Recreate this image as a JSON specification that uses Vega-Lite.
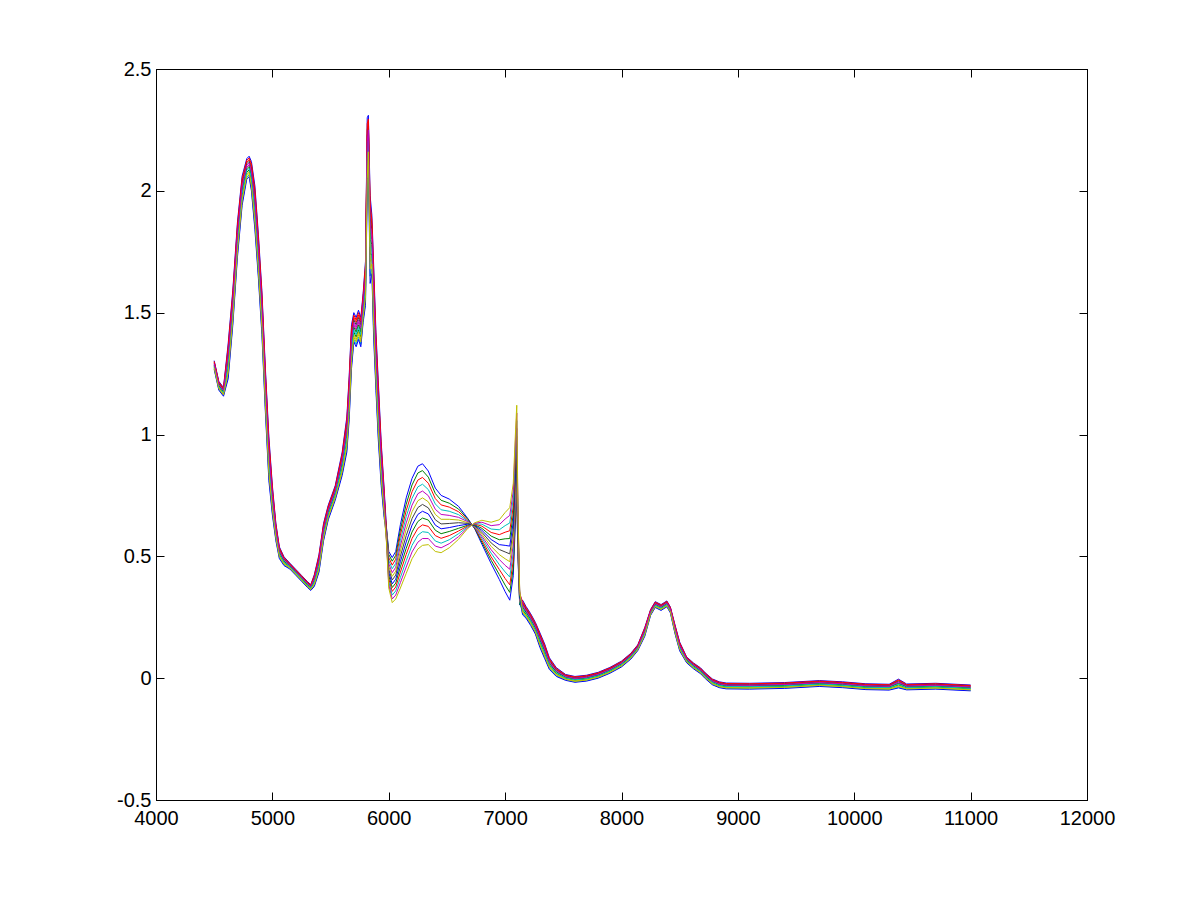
{
 "$schema": "https://vega.github.io/schema/vega-lite/v6.json",
 "width": 931, "height": 731,
 "autosize": "none",
 "padding": {"left": 156, "top": 69, "right": 114, "bottom": 100},
 "background": "white",
 "config": {
  "view": {"stroke": "black", "strokeWidth": 1},
  "axis": {"grid": false, "title": null, "domainColor": "black", "domainWidth": 1, "tickColor": "black", "tickWidth": 1, "tickSize": -8, "labelColor": "black", "labelFont": "Liberation Sans", "labelFontSize": 20, "labelFlush": false, "labelOverlap": false, "labelPadding": 8},
  "axisX": {"labelPadding": 16},
  "axisY": {"labelPadding": 13}
 },
 "layer": [
  {
   "data": {"values": [
    {"x":4500,"a":1.303,"b":1.279,"c":1.297,"d":1.27,"e":1.288,"f":1.276,"g":1.294,"h":1.267,"i":1.285,"j":1.3,"k":1.282,"l":1.291,"m":1.273},
    {"x":4540,"a":1.218,"b":1.194,"c":1.212,"d":1.185,"e":1.203,"f":1.191,"g":1.209,"h":1.182,"i":1.2,"j":1.215,"k":1.197,"l":1.206,"m":1.188},
    {"x":4580,"a":1.193,"b":1.169,"c":1.187,"d":1.16,"e":1.178,"f":1.166,"g":1.184,"h":1.157,"i":1.175,"j":1.19,"k":1.172,"l":1.181,"m":1.163},
    {"x":4620,"a":1.372,"b":1.276,"c":1.348,"d":1.24,"e":1.312,"f":1.264,"g":1.336,"h":1.228,"i":1.3,"j":1.36,"k":1.288,"l":1.324,"m":1.252},
    {"x":4660,"a":1.592,"b":1.496,"c":1.568,"d":1.46,"e":1.532,"f":1.484,"g":1.556,"h":1.448,"i":1.52,"j":1.58,"k":1.508,"l":1.544,"m":1.472},
    {"x":4700,"a":1.872,"b":1.776,"c":1.848,"d":1.74,"e":1.812,"f":1.764,"g":1.836,"h":1.728,"i":1.8,"j":1.86,"k":1.788,"l":1.824,"m":1.752},
    {"x":4740,"a":2.06,"b":1.98,"c":2.04,"d":1.95,"e":2.01,"f":1.97,"g":2.03,"h":1.94,"i":2.0,"j":2.05,"k":1.99,"l":2.02,"m":1.96},
    {"x":4780,"a":2.132,"b":2.076,"c":2.118,"d":2.055,"e":2.097,"f":2.069,"g":2.111,"h":2.048,"i":2.09,"j":2.125,"k":2.083,"l":2.104,"m":2.062},
    {"x":4800,"a":2.142,"b":2.086,"c":2.128,"d":2.065,"e":2.107,"f":2.079,"g":2.121,"h":2.058,"i":2.1,"j":2.135,"k":2.093,"l":2.114,"m":2.072},
    {"x":4820,"a":2.12,"b":2.04,"c":2.1,"d":2.01,"e":2.07,"f":2.03,"g":2.09,"h":2.0,"i":2.06,"j":2.11,"k":2.05,"l":2.08,"m":2.02},
    {"x":4850,"a":2.02,"b":1.9,"c":1.99,"d":1.855,"e":1.945,"f":1.885,"g":1.975,"h":1.84,"i":1.93,"j":2.005,"k":1.915,"l":1.96,"m":1.87},
    {"x":4880,"a":1.82,"b":1.7,"c":1.79,"d":1.655,"e":1.745,"f":1.685,"g":1.775,"h":1.64,"i":1.73,"j":1.805,"k":1.715,"l":1.76,"m":1.67},
    {"x":4910,"a":1.59,"b":1.47,"c":1.56,"d":1.425,"e":1.515,"f":1.455,"g":1.545,"h":1.41,"i":1.5,"j":1.575,"k":1.485,"l":1.53,"m":1.44},
    {"x":4940,"a":1.27,"b":1.15,"c":1.24,"d":1.105,"e":1.195,"f":1.135,"g":1.225,"h":1.09,"i":1.18,"j":1.255,"k":1.165,"l":1.21,"m":1.12},
    {"x":4970,"a":0.99,"b":0.87,"c":0.96,"d":0.825,"e":0.915,"f":0.855,"g":0.945,"h":0.81,"i":0.9,"j":0.975,"k":0.885,"l":0.93,"m":0.84},
    {"x":5000,"a":0.79,"b":0.71,"c":0.77,"d":0.68,"e":0.74,"f":0.7,"g":0.76,"h":0.67,"i":0.73,"j":0.78,"k":0.72,"l":0.75,"m":0.69},
    {"x":5030,"a":0.636,"b":0.588,"c":0.624,"d":0.57,"e":0.606,"f":0.582,"g":0.618,"h":0.564,"i":0.6,"j":0.63,"k":0.594,"l":0.612,"m":0.576},
    {"x":5060,"a":0.539,"b":0.507,"c":0.531,"d":0.495,"e":0.519,"f":0.503,"g":0.527,"h":0.491,"i":0.515,"j":0.535,"k":0.511,"l":0.523,"m":0.499},
    {"x":5100,"a":0.498,"b":0.474,"c":0.492,"d":0.465,"e":0.483,"f":0.471,"g":0.489,"h":0.462,"i":0.48,"j":0.495,"k":0.477,"l":0.486,"m":0.468},
    {"x":5150,"a":0.472,"b":0.456,"c":0.468,"d":0.45,"e":0.462,"f":0.454,"g":0.466,"h":0.448,"i":0.46,"j":0.47,"k":0.458,"l":0.464,"m":0.452},
    {"x":5200,"a":0.447,"b":0.431,"c":0.443,"d":0.425,"e":0.437,"f":0.429,"g":0.441,"h":0.423,"i":0.435,"j":0.445,"k":0.433,"l":0.439,"m":0.427},
    {"x":5250,"a":0.422,"b":0.406,"c":0.418,"d":0.4,"e":0.412,"f":0.404,"g":0.416,"h":0.398,"i":0.41,"j":0.42,"k":0.408,"l":0.414,"m":0.402},
    {"x":5300,"a":0.397,"b":0.381,"c":0.393,"d":0.375,"e":0.387,"f":0.379,"g":0.391,"h":0.373,"i":0.385,"j":0.395,"k":0.383,"l":0.389,"m":0.377},
    {"x":5330,"a":0.384,"b":0.368,"c":0.38,"d":0.362,"e":0.374,"f":0.366,"g":0.378,"h":0.36,"i":0.372,"j":0.382,"k":0.37,"l":0.376,"m":0.364},
    {"x":5360,"a":0.424,"b":0.392,"c":0.416,"d":0.38,"e":0.404,"f":0.388,"g":0.412,"h":0.376,"i":0.4,"j":0.42,"k":0.396,"l":0.408,"m":0.384},
    {"x":5400,"a":0.506,"b":0.458,"c":0.494,"d":0.44,"e":0.476,"f":0.452,"g":0.488,"h":0.434,"i":0.47,"j":0.5,"k":0.464,"l":0.482,"m":0.446},
    {"x":5440,"a":0.636,"b":0.588,"c":0.624,"d":0.57,"e":0.606,"f":0.582,"g":0.618,"h":0.564,"i":0.6,"j":0.63,"k":0.594,"l":0.612,"m":0.576},
    {"x":5480,"a":0.71,"b":0.67,"c":0.7,"d":0.655,"e":0.685,"f":0.665,"g":0.695,"h":0.65,"i":0.68,"j":0.705,"k":0.675,"l":0.69,"m":0.66},
    {"x":5540,"a":0.79,"b":0.75,"c":0.78,"d":0.735,"e":0.765,"f":0.745,"g":0.775,"h":0.73,"i":0.76,"j":0.785,"k":0.755,"l":0.77,"m":0.74},
    {"x":5600,"a":0.928,"b":0.864,"c":0.912,"d":0.84,"e":0.888,"f":0.856,"g":0.904,"h":0.832,"i":0.88,"j":0.92,"k":0.872,"l":0.896,"m":0.848},
    {"x":5640,"a":1.072,"b":0.976,"c":1.048,"d":0.94,"e":1.012,"f":0.964,"g":1.036,"h":0.928,"i":1.0,"j":1.06,"k":0.988,"l":1.024,"m":0.952},
    {"x":5660,"a":1.24,"b":1.12,"c":1.21,"d":1.075,"e":1.165,"f":1.105,"g":1.195,"h":1.06,"i":1.15,"j":1.225,"k":1.135,"l":1.18,"m":1.09},
    {"x":5680,"a":1.45,"b":1.33,"c":1.42,"d":1.285,"e":1.375,"f":1.315,"g":1.405,"h":1.27,"i":1.36,"j":1.435,"k":1.345,"l":1.39,"m":1.3},
    {"x":5700,"a":1.5,"b":1.42,"c":1.48,"d":1.39,"e":1.45,"f":1.41,"g":1.47,"h":1.38,"i":1.44,"j":1.49,"k":1.43,"l":1.46,"m":1.4},
    {"x":5720,"a":1.48,"b":1.4,"c":1.46,"d":1.37,"e":1.43,"f":1.39,"g":1.45,"h":1.36,"i":1.42,"j":1.47,"k":1.41,"l":1.44,"m":1.38},
    {"x":5740,"a":1.51,"b":1.43,"c":1.49,"d":1.4,"e":1.46,"f":1.42,"g":1.48,"h":1.39,"i":1.45,"j":1.5,"k":1.44,"l":1.47,"m":1.41},
    {"x":5760,"a":1.48,"b":1.4,"c":1.46,"d":1.37,"e":1.43,"f":1.39,"g":1.45,"h":1.36,"i":1.42,"j":1.47,"k":1.41,"l":1.44,"m":1.38},
    {"x":5780,"a":1.58,"b":1.5,"c":1.56,"d":1.47,"e":1.53,"f":1.49,"g":1.55,"h":1.46,"i":1.52,"j":1.57,"k":1.51,"l":1.54,"m":1.48},
    {"x":5800,"a":1.71,"b":1.59,"c":1.68,"d":1.545,"e":1.635,"f":1.575,"g":1.665,"h":1.53,"i":1.62,"j":1.695,"k":1.605,"l":1.65,"m":1.56},
    {"x":5815,"a":2.3,"b":2.1,"c":2.25,"d":2.025,"e":2.175,"f":2.075,"g":2.225,"h":2.0,"i":2.15,"j":2.275,"k":2.125,"l":2.2,"m":2.05},
    {"x":5825,"a":2.31,"b":2.19,"c":2.28,"d":2.145,"e":2.235,"f":2.175,"g":2.265,"h":2.13,"i":2.22,"j":2.295,"k":2.205,"l":2.25,"m":2.16},
    {"x":5840,"a":1.98,"b":1.74,"c":1.92,"d":1.65,"e":1.83,"f":1.71,"g":1.89,"h":1.62,"i":1.8,"j":1.95,"k":1.77,"l":1.86,"m":1.68},
    {"x":5855,"a":1.9,"b":1.74,"c":1.86,"d":1.68,"e":1.8,"f":1.72,"g":1.84,"h":1.66,"i":1.78,"j":1.88,"k":1.76,"l":1.82,"m":1.7},
    {"x":5870,"a":1.7,"b":1.5,"c":1.65,"d":1.425,"e":1.575,"f":1.475,"g":1.625,"h":1.4,"i":1.55,"j":1.675,"k":1.525,"l":1.6,"m":1.45},
    {"x":5890,"a":1.42,"b":1.26,"c":1.38,"d":1.2,"e":1.32,"f":1.24,"g":1.36,"h":1.18,"i":1.3,"j":1.4,"k":1.28,"l":1.34,"m":1.22},
    {"x":5910,"a":1.22,"b":1.06,"c":1.18,"d":1.0,"e":1.12,"f":1.04,"g":1.16,"h":0.98,"i":1.1,"j":1.2,"k":1.08,"l":1.14,"m":1.02},
    {"x":5935,"a":0.97,"b":0.85,"c":0.94,"d":0.805,"e":0.895,"f":0.835,"g":0.925,"h":0.79,"i":0.88,"j":0.955,"k":0.865,"l":0.91,"m":0.82},
    {"x":5960,"a":0.78,"b":0.7,"c":0.76,"d":0.67,"e":0.73,"f":0.69,"g":0.75,"h":0.66,"i":0.72,"j":0.77,"k":0.71,"l":0.74,"m":0.68},
    {"x":5980,"a":0.62,"b":0.615,"c":0.61,"d":0.605,"e":0.6,"f":0.595,"g":0.59,"h":0.585,"i":0.58,"j":0.575,"k":0.57,"l":0.565,"m":0.56},
    {"x":6000,"a":0.52,"b":0.508,"c":0.495,"d":0.483,"e":0.47,"f":0.458,"g":0.445,"h":0.433,"i":0.42,"j":0.408,"k":0.395,"l":0.383,"m":0.37},
    {"x":6030,"a":0.495,"b":0.48,"c":0.464,"d":0.449,"e":0.433,"f":0.418,"g":0.403,"h":0.387,"i":0.372,"j":0.356,"k":0.341,"l":0.325,"m":0.31},
    {"x":6060,"a":0.52,"b":0.504,"c":0.488,"d":0.471,"e":0.455,"f":0.439,"g":0.423,"h":0.406,"i":0.39,"j":0.374,"k":0.358,"l":0.341,"m":0.325},
    {"x":6100,"a":0.63,"b":0.608,"c":0.587,"d":0.565,"e":0.543,"f":0.522,"g":0.5,"h":0.478,"i":0.457,"j":0.435,"k":0.413,"l":0.392,"m":0.37},
    {"x":6150,"a":0.74,"b":0.714,"c":0.688,"d":0.663,"e":0.637,"f":0.611,"g":0.585,"h":0.559,"i":0.533,"j":0.508,"k":0.482,"l":0.456,"m":0.43},
    {"x":6200,"a":0.82,"b":0.793,"c":0.765,"d":0.738,"e":0.71,"f":0.683,"g":0.655,"h":0.628,"i":0.6,"j":0.573,"k":0.545,"l":0.518,"m":0.49},
    {"x":6250,"a":0.87,"b":0.842,"c":0.813,"d":0.785,"e":0.757,"f":0.728,"g":0.7,"h":0.672,"i":0.643,"j":0.615,"k":0.587,"l":0.558,"m":0.53},
    {"x":6290,"a":0.88,"b":0.852,"c":0.824,"d":0.796,"e":0.768,"f":0.74,"g":0.713,"h":0.685,"i":0.657,"j":0.629,"k":0.601,"l":0.573,"m":0.545},
    {"x":6340,"a":0.85,"b":0.825,"c":0.8,"d":0.774,"e":0.749,"f":0.724,"g":0.699,"h":0.674,"i":0.649,"j":0.623,"k":0.598,"l":0.573,"m":0.548},
    {"x":6400,"a":0.78,"b":0.758,"c":0.737,"d":0.715,"e":0.693,"f":0.672,"g":0.65,"h":0.628,"i":0.607,"j":0.585,"k":0.563,"l":0.542,"m":0.52},
    {"x":6450,"a":0.75,"b":0.73,"c":0.711,"d":0.691,"e":0.672,"f":0.652,"g":0.633,"h":0.613,"i":0.593,"j":0.574,"k":0.554,"l":0.535,"m":0.515},
    {"x":6520,"a":0.735,"b":0.718,"c":0.702,"d":0.685,"e":0.668,"f":0.652,"g":0.635,"h":0.618,"i":0.602,"j":0.585,"k":0.568,"l":0.552,"m":0.535},
    {"x":6600,"a":0.705,"b":0.694,"c":0.683,"d":0.671,"e":0.66,"f":0.649,"g":0.638,"h":0.626,"i":0.615,"j":0.604,"k":0.593,"l":0.581,"m":0.57},
    {"x":6680,"a":0.655,"b":0.652,"c":0.648,"d":0.645,"e":0.642,"f":0.638,"g":0.635,"h":0.632,"i":0.628,"j":0.625,"k":0.622,"l":0.618,"m":0.615},
    {"x":6740,"a":0.612,"b":0.614,"c":0.616,"d":0.619,"e":0.621,"f":0.623,"g":0.625,"h":0.627,"i":0.629,"j":0.632,"k":0.634,"l":0.636,"m":0.638},
    {"x":6800,"a":0.55,"b":0.558,"c":0.566,"d":0.575,"e":0.583,"f":0.591,"g":0.599,"h":0.607,"i":0.615,"j":0.624,"k":0.632,"l":0.64,"m":0.648},
    {"x":6880,"a":0.47,"b":0.484,"c":0.498,"d":0.513,"e":0.527,"f":0.541,"g":0.555,"h":0.569,"i":0.583,"j":0.598,"k":0.612,"l":0.626,"m":0.64},
    {"x":6950,"a":0.405,"b":0.425,"c":0.446,"d":0.466,"e":0.487,"f":0.507,"g":0.528,"h":0.548,"i":0.568,"j":0.589,"k":0.609,"l":0.63,"m":0.65},
    {"x":7000,"a":0.355,"b":0.382,"c":0.409,"d":0.436,"e":0.463,"f":0.49,"g":0.518,"h":0.545,"i":0.572,"j":0.599,"k":0.626,"l":0.653,"m":0.68},
    {"x":7040,"a":0.32,"b":0.352,"c":0.383,"d":0.415,"e":0.447,"f":0.478,"g":0.51,"h":0.542,"i":0.573,"j":0.605,"k":0.637,"l":0.668,"m":0.7},
    {"x":7070,"a":0.42,"b":0.452,"c":0.483,"d":0.515,"e":0.547,"f":0.578,"g":0.61,"h":0.642,"i":0.673,"j":0.705,"k":0.737,"l":0.768,"m":0.8},
    {"x":7090,"a":0.66,"b":0.69,"c":0.72,"d":0.75,"e":0.78,"f":0.81,"g":0.84,"h":0.87,"i":0.9,"j":0.93,"k":0.96,"l":0.99,"m":1.02},
    {"x":7100,"a":0.74,"b":0.772,"c":0.803,"d":0.835,"e":0.867,"f":0.898,"g":0.93,"h":0.962,"i":0.993,"j":1.025,"k":1.057,"l":1.088,"m":1.12},
    {"x":7110,"a":0.5,"b":0.517,"c":0.533,"d":0.55,"e":0.567,"f":0.583,"g":0.6,"h":0.617,"i":0.633,"j":0.65,"k":0.667,"l":0.683,"m":0.7},
    {"x":7125,"a":0.3,"b":0.305,"c":0.31,"d":0.315,"e":0.32,"f":0.325,"g":0.33,"h":0.335,"i":0.34,"j":0.345,"k":0.35,"l":0.355,"m":0.36},
    {"x":7150,"a":0.32,"b":0.28,"c":0.31,"d":0.265,"e":0.295,"f":0.275,"g":0.305,"h":0.26,"i":0.29,"j":0.315,"k":0.285,"l":0.3,"m":0.27},
    {"x":7180,"a":0.294,"b":0.262,"c":0.286,"d":0.25,"e":0.274,"f":0.258,"g":0.282,"h":0.246,"i":0.27,"j":0.29,"k":0.266,"l":0.278,"m":0.254},
    {"x":7220,"a":0.264,"b":0.232,"c":0.256,"d":0.22,"e":0.244,"f":0.228,"g":0.252,"h":0.216,"i":0.24,"j":0.26,"k":0.236,"l":0.248,"m":0.224},
    {"x":7260,"a":0.229,"b":0.197,"c":0.221,"d":0.185,"e":0.209,"f":0.193,"g":0.217,"h":0.181,"i":0.205,"j":0.225,"k":0.201,"l":0.213,"m":0.189},
    {"x":7300,"a":0.185,"b":0.145,"c":0.175,"d":0.13,"e":0.16,"f":0.14,"g":0.17,"h":0.125,"i":0.155,"j":0.18,"k":0.15,"l":0.165,"m":0.135},
    {"x":7340,"a":0.14,"b":0.1,"c":0.13,"d":0.085,"e":0.115,"f":0.095,"g":0.125,"h":0.08,"i":0.11,"j":0.135,"k":0.105,"l":0.12,"m":0.09},
    {"x":7380,"a":0.084,"b":0.052,"c":0.076,"d":0.04,"e":0.064,"f":0.048,"g":0.072,"h":0.036,"i":0.06,"j":0.08,"k":0.056,"l":0.068,"m":0.044},
    {"x":7440,"a":0.043,"b":0.019,"c":0.037,"d":0.01,"e":0.028,"f":0.016,"g":0.034,"h":0.007,"i":0.025,"j":0.04,"k":0.022,"l":0.031,"m":0.013},
    {"x":7520,"a":0.015,"b":-0.001,"c":0.011,"d":-0.007,"e":0.005,"f":-0.003,"g":0.009,"h":-0.009,"i":0.003,"j":0.013,"k":0.001,"l":0.007,"m":-0.005},
    {"x":7600,"a":0.007,"b":-0.009,"c":0.003,"d":-0.015,"e":-0.003,"f":-0.011,"g":0.001,"h":-0.017,"i":-0.005,"j":0.005,"k":-0.007,"l":-0.001,"m":-0.013},
    {"x":7700,"a":0.012,"b":-0.004,"c":0.008,"d":-0.01,"e":0.002,"f":-0.006,"g":0.006,"h":-0.012,"i":0.0,"j":0.01,"k":-0.002,"l":0.004,"m":-0.008},
    {"x":7800,"a":0.024,"b":0.008,"c":0.02,"d":0.002,"e":0.014,"f":0.006,"g":0.018,"h":0.0,"i":0.012,"j":0.022,"k":0.01,"l":0.016,"m":0.004},
    {"x":7900,"a":0.044,"b":0.028,"c":0.04,"d":0.022,"e":0.034,"f":0.026,"g":0.038,"h":0.02,"i":0.032,"j":0.042,"k":0.03,"l":0.036,"m":0.024},
    {"x":8000,"a":0.07,"b":0.054,"c":0.066,"d":0.048,"e":0.06,"f":0.052,"g":0.064,"h":0.046,"i":0.058,"j":0.068,"k":0.056,"l":0.062,"m":0.05},
    {"x":8080,"a":0.102,"b":0.086,"c":0.098,"d":0.08,"e":0.092,"f":0.084,"g":0.096,"h":0.078,"i":0.09,"j":0.1,"k":0.088,"l":0.094,"m":0.082},
    {"x":8140,"a":0.137,"b":0.121,"c":0.133,"d":0.115,"e":0.127,"f":0.119,"g":0.131,"h":0.113,"i":0.125,"j":0.135,"k":0.123,"l":0.129,"m":0.117},
    {"x":8200,"a":0.208,"b":0.184,"c":0.202,"d":0.175,"e":0.193,"f":0.181,"g":0.199,"h":0.172,"i":0.19,"j":0.205,"k":0.187,"l":0.196,"m":0.178},
    {"x":8250,"a":0.282,"b":0.266,"c":0.278,"d":0.26,"e":0.272,"f":0.264,"g":0.276,"h":0.258,"i":0.27,"j":0.28,"k":0.268,"l":0.274,"m":0.262},
    {"x":8290,"a":0.314,"b":0.298,"c":0.31,"d":0.292,"e":0.304,"f":0.296,"g":0.308,"h":0.29,"i":0.302,"j":0.312,"k":0.3,"l":0.306,"m":0.294},
    {"x":8340,"a":0.302,"b":0.286,"c":0.298,"d":0.28,"e":0.292,"f":0.284,"g":0.296,"h":0.278,"i":0.29,"j":0.3,"k":0.288,"l":0.294,"m":0.282},
    {"x":8390,"a":0.317,"b":0.301,"c":0.313,"d":0.295,"e":0.307,"f":0.299,"g":0.311,"h":0.293,"i":0.305,"j":0.315,"k":0.303,"l":0.309,"m":0.297},
    {"x":8420,"a":0.292,"b":0.276,"c":0.288,"d":0.27,"e":0.282,"f":0.274,"g":0.286,"h":0.268,"i":0.28,"j":0.29,"k":0.278,"l":0.284,"m":0.272},
    {"x":8460,"a":0.218,"b":0.194,"c":0.212,"d":0.185,"e":0.203,"f":0.191,"g":0.209,"h":0.182,"i":0.2,"j":0.215,"k":0.197,"l":0.206,"m":0.188},
    {"x":8500,"a":0.148,"b":0.124,"c":0.142,"d":0.115,"e":0.133,"f":0.121,"g":0.139,"h":0.112,"i":0.13,"j":0.145,"k":0.127,"l":0.136,"m":0.118},
    {"x":8560,"a":0.087,"b":0.071,"c":0.083,"d":0.065,"e":0.077,"f":0.069,"g":0.081,"h":0.063,"i":0.075,"j":0.085,"k":0.073,"l":0.079,"m":0.067},
    {"x":8620,"a":0.062,"b":0.046,"c":0.058,"d":0.04,"e":0.052,"f":0.044,"g":0.056,"h":0.038,"i":0.05,"j":0.06,"k":0.048,"l":0.054,"m":0.042},
    {"x":8680,"a":0.042,"b":0.026,"c":0.038,"d":0.02,"e":0.032,"f":0.024,"g":0.036,"h":0.018,"i":0.03,"j":0.04,"k":0.028,"l":0.034,"m":0.022},
    {"x":8720,"a":0.022,"b":0.006,"c":0.018,"d":0.0,"e":0.012,"f":0.004,"g":0.016,"h":-0.002,"i":0.01,"j":0.02,"k":0.008,"l":0.014,"m":0.002},
    {"x":8780,"a":-0.003,"b":-0.019,"c":-0.007,"d":-0.025,"e":-0.013,"f":-0.021,"g":-0.009,"h":-0.027,"i":-0.015,"j":-0.005,"k":-0.017,"l":-0.011,"m":-0.023},
    {"x":8840,"a":-0.015,"b":-0.031,"c":-0.019,"d":-0.037,"e":-0.025,"f":-0.033,"g":-0.021,"h":-0.039,"i":-0.027,"j":-0.017,"k":-0.029,"l":-0.023,"m":-0.035},
    {"x":8900,"a":-0.02,"b":-0.036,"c":-0.024,"d":-0.042,"e":-0.03,"f":-0.038,"g":-0.026,"h":-0.044,"i":-0.032,"j":-0.022,"k":-0.034,"l":-0.028,"m":-0.04},
    {"x":9100,"a":-0.021,"b":-0.037,"c":-0.025,"d":-0.043,"e":-0.031,"f":-0.039,"g":-0.027,"h":-0.045,"i":-0.033,"j":-0.023,"k":-0.035,"l":-0.029,"m":-0.041},
    {"x":9400,"a":-0.018,"b":-0.034,"c":-0.022,"d":-0.04,"e":-0.028,"f":-0.036,"g":-0.024,"h":-0.042,"i":-0.03,"j":-0.02,"k":-0.032,"l":-0.026,"m":-0.038},
    {"x":9700,"a":-0.01,"b":-0.026,"c":-0.014,"d":-0.032,"e":-0.02,"f":-0.028,"g":-0.016,"h":-0.034,"i":-0.022,"j":-0.012,"k":-0.024,"l":-0.018,"m":-0.03},
    {"x":9900,"a":-0.015,"b":-0.031,"c":-0.019,"d":-0.037,"e":-0.025,"f":-0.033,"g":-0.021,"h":-0.039,"i":-0.027,"j":-0.017,"k":-0.029,"l":-0.023,"m":-0.035},
    {"x":10100,"a":-0.023,"b":-0.039,"c":-0.027,"d":-0.045,"e":-0.033,"f":-0.041,"g":-0.029,"h":-0.047,"i":-0.035,"j":-0.025,"k":-0.037,"l":-0.031,"m":-0.043},
    {"x":10300,"a":-0.025,"b":-0.041,"c":-0.029,"d":-0.047,"e":-0.035,"f":-0.043,"g":-0.031,"h":-0.049,"i":-0.037,"j":-0.027,"k":-0.039,"l":-0.033,"m":-0.045},
    {"x":10380,"a":-0.004,"b":-0.028,"c":-0.01,"d":-0.037,"e":-0.019,"f":-0.031,"g":-0.013,"h":-0.04,"i":-0.022,"j":-0.007,"k":-0.025,"l":-0.016,"m":-0.034},
    {"x":10450,"a":-0.024,"b":-0.04,"c":-0.028,"d":-0.046,"e":-0.034,"f":-0.042,"g":-0.03,"h":-0.048,"i":-0.036,"j":-0.026,"k":-0.038,"l":-0.032,"m":-0.044},
    {"x":10700,"a":-0.021,"b":-0.037,"c":-0.025,"d":-0.043,"e":-0.031,"f":-0.039,"g":-0.027,"h":-0.045,"i":-0.033,"j":-0.023,"k":-0.035,"l":-0.029,"m":-0.041},
    {"x":11000,"a":-0.028,"b":-0.044,"c":-0.032,"d":-0.05,"e":-0.038,"f":-0.046,"g":-0.034,"h":-0.052,"i":-0.04,"j":-0.03,"k":-0.042,"l":-0.036,"m":-0.048}
   ]},
   "transform": [{"fold": ["a","b","c","d","e","f","g","h","i","j","k","l","m"], "as": ["s","y"]}],
   "mark": {"type": "line", "strokeWidth": 1, "clip": true},
   "encoding": {
    "x": {"field": "x", "type": "quantitative", "scale": {"domain": [4000, 12000], "nice": false, "zero": false},
          "axis": {"values": [4000,5000,6000,7000,8000,9000,10000,11000,12000], "format": "d"}},
    "y": {"field": "y", "type": "quantitative", "scale": {"domain": [-0.5, 2.5], "nice": false, "zero": false},
          "axis": {"values": [-0.5,0,0.5,1,1.5,2,2.5], "labelExpr": "'' + datum.value"}},
    "color": {"field": "s", "type": "nominal", "legend": null,
              "scale": {"domain": ["a","b","c","d","e","f","g","h","i","j","k","l","m"],
                        "range": ["#0000ff","#008000","#ff0000","#00bfbf","#bf00bf","#bfbf00","#404040","#0000ff","#008000","#ff0000","#00bfbf","#bf00bf","#bfbf00"]}}
   }
  },
  {
   "data": {"values": [{"x": 4000, "y": 0}]},
   "mark": {"type": "point", "opacity": 0},
   "encoding": {
    "x": {"field": "x", "type": "quantitative", "scale": {"domain": [4000, 12000], "nice": false, "zero": false},
          "axis": {"orient": "top", "labels": false, "values": [4000,5000,6000,7000,8000,9000,10000,11000,12000]}},
    "y": {"field": "y", "type": "quantitative", "scale": {"domain": [-0.5, 2.5], "nice": false, "zero": false},
          "axis": {"orient": "right", "labels": false, "values": [-0.5,0,0.5,1,1.5,2,2.5]}}
   }
  }
 ],
 "resolve": {"axis": {"x": "independent", "y": "independent"}}
}
